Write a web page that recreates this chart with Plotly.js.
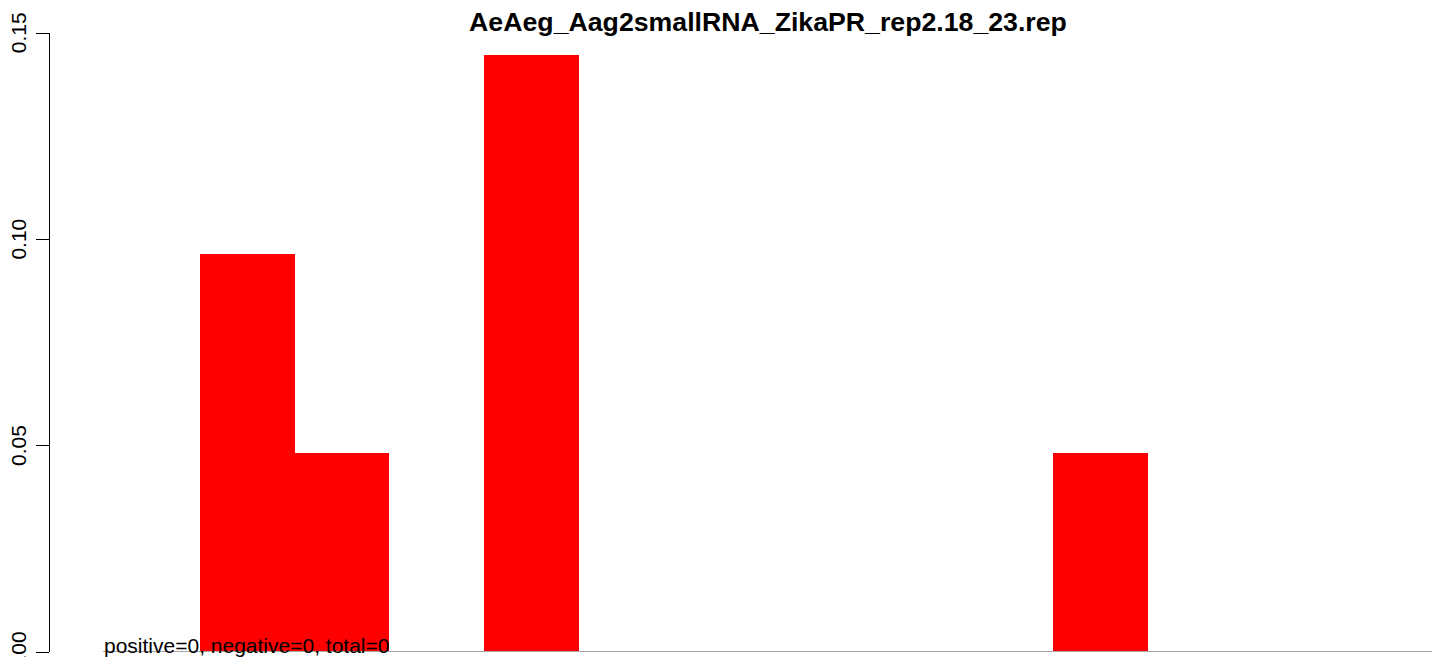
<!DOCTYPE html>
<html>
<head>
<meta charset="utf-8">
<script src="https://cdn.plot.ly/plotly-3.0.1.min.js"></script>
<style>
html,body{margin:0;padding:0;background:#fff;}
#chart{width:1439px;height:657px;}
</style>
</head>
<body>
<div id="chart"></div>
<script>
// Data
const chartTitle = "AeAeg_Aag2smallRNA_ZikaPR_rep2.18_23.rep";
const positions = [0, 1, 2, 3, 4, 5, 6, 7, 8, 9, 10, 11, 12, 13];
const values = [0, 0.0964, 0.0482, 0, 0.1446, 0, 0, 0, 0, 0, 0.0482, 0, 0, 0];
const yTickVals = [0, 0.05, 0.10, 0.15];
const yTickText = ["0.00", "0.05", "0.10", "0.15"];
const footnote = "positive=0, negative=0, total=0";

const FONT = '"Liberation Sans", Arial, Helvetica, sans-serif';

const trace = {
  type: 'bar',
  x: positions.map(p => p + 0.5),
  y: values,
  width: 1,
  marker: {color: '#FF0000', line: {width: 0}},
  hoverinfo: 'skip'
};

const layout = {
  width: 1439,
  height: 657,
  paper_bgcolor: '#ffffff',
  plot_bgcolor: '#ffffff',
  showlegend: false,
  bargap: 0,
  margin: {l: 50, r: 7, t: 33, b: 5, pad: 0},
  font: {family: FONT, color: '#000000', size: 20},
  title: {
    text: '<b>' + chartTitle + '</b>',
    font: {family: FONT, size: 26.7, color: '#000000'},
    xref: 'container', x: 768 / 1439, xanchor: 'center',
    yref: 'container', y: 1 - 22 / 657, yanchor: 'middle'
  },
  xaxis: {
    range: [-0.58, positions.length],
    showgrid: false, zeroline: false, showline: false,
    showticklabels: false, ticks: ''
  },
  yaxis: {
    range: [0, 0.15],
    tickvals: yTickVals,
    ticktext: yTickText,
    tickangle: -90,
    ticks: 'outside', ticklen: 13, tickwidth: 1, tickcolor: '#000000',
    showline: true, linecolor: '#000000', linewidth: 1,
    showgrid: false, zeroline: false,
    tickfont: {family: FONT, size: 21, color: '#000000'},
    ticklabelstandoff: 2,
    ticklabelshift: 3,
    ticklabeloverflow: 'allow'
  },
  shapes: [{
    type: 'line', xref: 'x', yref: 'y',
    x0: -0.02, x1: positions.length, y0: 0, y1: 0,
    line: {color: '#a6a6a6', width: 2}
  }],
  annotations: [{
    text: footnote,
    xref: 'x', yref: 'y', x: -0.03, y: 0,
    xanchor: 'left', yanchor: 'bottom',
    yshift: -7,
    showarrow: false,
    font: {family: FONT, size: 21, color: '#000000'}
  }]
};

Plotly.newPlot('chart', [trace], layout, {displayModeBar: false, staticPlot: true});
</script>
</body>
</html>
